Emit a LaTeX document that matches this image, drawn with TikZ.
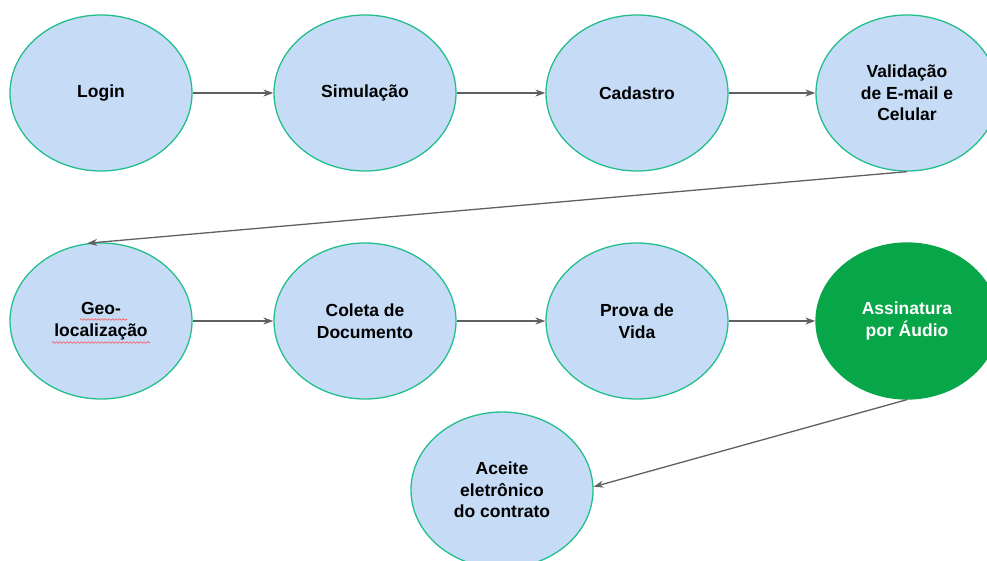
\documentclass[tikz,border=0pt]{standalone}
\usepackage{fontspec}
\setmainfont{Liberation Sans}
\usepackage{xcolor}
\usetikzlibrary{arrows.meta, shapes.geometric, decorations.pathmorphing}
\definecolor{stepblue}{HTML}{C6DCF6}
\definecolor{stepline}{HTML}{22BF8C}
\definecolor{stepgreen}{HTML}{07A649}
\definecolor{arrowgray}{HTML}{606060}

\begin{document}
\begin{tikzpicture}[x=1pt,y=-1pt]
		\tikzset{stepnode/.style = {shape=ellipse, draw=stepline, line width=1.3pt, fill=stepblue,
				minimum width=182pt, minimum height=156pt, inner sep=0pt, align=center,
				font=\fontsize{17.5}{21.5}\selectfont\bfseries}}
		\tikzset{donenode/.style = {stepnode, draw=stepgreen, fill=stepgreen, text=white}}
		\tikzset{edge/.style = {draw=arrowgray, line width=1.3pt, -{Stealth[length=10pt,width=7pt]}}}
		\tikzset{squiggle/.style = {draw=red!70, line width=0.6pt,
				decorate, decoration={snake, amplitude=0.8pt, segment length=3.5pt}}}

		\useasboundingbox (0,0) rectangle (987,561);

		\node[stepnode] (login) at (101,93) {Login};
		\node[stepnode] (simul) at (365,93) {Simulação};
		\node[stepnode] (cad) at (637,93) {Cadastro};
		\node[stepnode] (valid) at (907,93) {Validação\\de E-mail e\\Celular};

		\node[stepnode] (geo) at (101,321) {Geo-\\localização};
		\node[stepnode] (coleta) at (365,321) {Coleta de\\Documento};
		\node[stepnode] (prova) at (637,321) {Prova de\\Vida};
		\node[donenode] (assin) at (907,321) {Assinatura\\por Áudio};

		\node[stepnode] (aceite) at (502,490) {Aceite\\eletrônico\\do contrato};

		% spell-check marks under Geo-localização
		\draw[squiggle] (80,319.5) -- (127,319.5);
		\draw[squiggle] (52,342.5) -- (150,342.5);

		\draw[edge] (login) to (simul);
		\draw[edge] (simul) to (cad);
		\draw[edge] (cad) to (valid);
		\draw[edge] (valid.south) to (geo.100);
		\draw[edge] (geo) to (coleta);
		\draw[edge] (coleta) to (prova);
		\draw[edge] (prova) to (assin);
		\draw[edge] (assin.south) to (aceite.2);

	\end{tikzpicture}
\end{document}
